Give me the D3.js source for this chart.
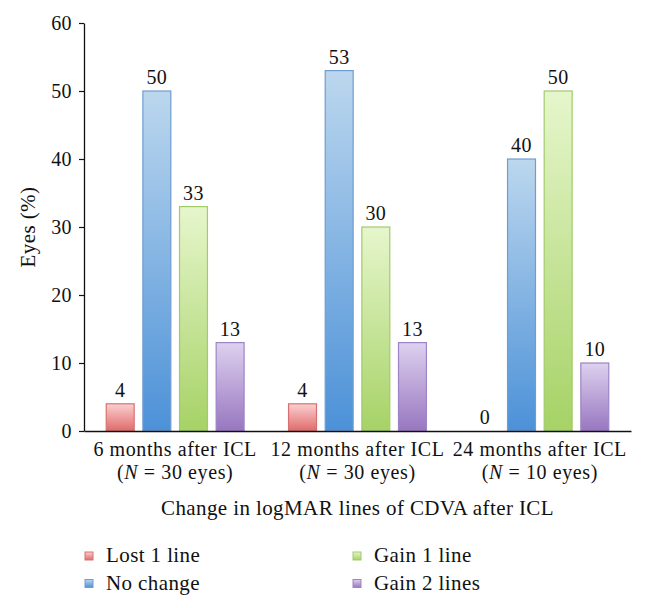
<!DOCTYPE html>
<html><head><meta charset="utf-8">
<script src="https://cdn.jsdelivr.net/npm/d3@7"></script>
<style>body{margin:0;background:#fff}text{font-family:"Liberation Serif","DejaVu Serif",serif;fill:#111}</style>
</head><body><svg id="c" width="645" height="608"></svg>
<script>
const categories = ["6 months after ICL", "12 months after ICL", "24 months after ICL"];
const categorySub = ["30", "30", "10"];
const series = ["Lost 1 line", "No change", "Gain 1 line", "Gain 2 lines"];
const lost1 = [4, 4, 0];
const noChange = [50, 53, 40];
const gain1 = [33, 30, 50];
const gain2 = [13, 13, 10];
const yTicks = [0, 10, 20, 30, 40, 50, 60];
const values = [lost1, noChange, gain1, gain2];
const colors = [
  {top:"#fbd0d0", bot:"#e06a6a", stroke:"#d97070"},
  {top:"#bcd7ee", bot:"#4c91d8", stroke:"#6f9dcf"},
  {top:"#e6f6cc", bot:"#a6d266", stroke:"#a2cb6a"},
  {top:"#ddd1ef", bot:"#9876c0", stroke:"#9d84c6"}
];
const FS = 21, LS = "0.4px";
const svg = d3.select("#c");
const x0 = d3.scaleBand().domain(categories).range([84, 631]).paddingInner(0).paddingOuter(0);
const x1 = d3.scaleBand().domain(series).range([0, x0.bandwidth()]).paddingInner(0.21).paddingOuter(0.593);
const y = d3.scaleLinear().domain([0, 60]).range([431, 23]);
const defs = svg.append("defs");
colors.forEach((c, i) => {
  const g = defs.append("linearGradient").attr("id", "g" + i).attr("x1", 0).attr("y1", 0).attr("x2", 0).attr("y2", 1);
  g.append("stop").attr("offset", "0%").attr("stop-color", c.top);
  g.append("stop").attr("offset", "100%").attr("stop-color", c.bot);
});
// bars
categories.forEach((cat, ci) => {
  series.forEach((s, si) => {
    const v = values[si][ci];
    const bx = x0(cat) + x1(s);
    if (v > 0) {
      svg.append("rect").attr("x", bx + 0.5).attr("y", y(v)).attr("width", x1.bandwidth() - 1)
        .attr("height", y(0) - y(v)).attr("fill", "url(#g" + si + ")")
        .attr("stroke", colors[si].stroke).attr("stroke-width", 1.2);
    }
    svg.append("text").attr("x", bx + x1.bandwidth() / 2).attr("y", y(v) - 7)
      .attr("text-anchor", "middle").attr("font-size", 20).attr("letter-spacing", LS).text(v);
  });
});
// y axis
const ya = svg.append("g").attr("transform", "translate(84,0)")
  .call(d3.axisLeft(y).tickValues(yTicks).tickSize(5).tickPadding(7).tickSizeOuter(0));
ya.select(".domain").attr("stroke", "#111").attr("stroke-width", 1.3);
ya.selectAll(".tick line").attr("stroke", "#111").attr("stroke-width", 1.2);
ya.selectAll(".tick text").attr("font-size", 20).attr("font-family", "Liberation Serif").attr("fill", "#111").attr("letter-spacing", LS);
// x axis
const xa = svg.append("g").attr("transform", "translate(0,431)")
  .call(d3.axisBottom(x0).tickSize(0).tickSizeOuter(0).tickFormat(""));
xa.select(".domain").attr("stroke", "#111").attr("stroke-width", 1.3);
categories.forEach((cat, ci) => {
  const cx = x0(cat) + x0.bandwidth() / 2;
  svg.append("text").attr("x", cx).attr("y", 456).attr("text-anchor", "middle").attr("font-size", 20).attr("letter-spacing", "0.6px").text(cat);
  const t = svg.append("text").attr("x", cx).attr("y", 479).attr("text-anchor", "middle").attr("font-size", 20).attr("letter-spacing", "0.6px");
  t.append("tspan").text("(");
  t.append("tspan").attr("font-style", "italic").text("N");
  t.append("tspan").text(" = " + categorySub[ci] + " eyes)");
});
svg.append("text").attr("x", 357.5).attr("y", 515).attr("text-anchor", "middle").attr("font-size", FS).attr("letter-spacing", LS)
  .text("Change in logMAR lines of CDVA after ICL");
svg.append("text").attr("transform", "translate(35,227) rotate(-90)").attr("text-anchor", "middle")
  .attr("font-size", FS).attr("letter-spacing", LS).text("Eyes (%)");
// legend
const legPos = [[85, 556], [85, 583.5], [353, 556], [353, 583.5]];
series.forEach((s, si) => {
  const [lx, ly] = legPos[si];
  svg.append("rect").attr("x", lx).attr("y", ly - 4).attr("width", 8).attr("height", 8)
    .attr("fill", "url(#g" + si + ")").attr("stroke", colors[si].stroke).attr("stroke-width", 1);
  svg.append("text").attr("x", lx + 21).attr("y", ly + 6).attr("font-size", FS).attr("letter-spacing", LS).text(s);
});
</script></body></html>
